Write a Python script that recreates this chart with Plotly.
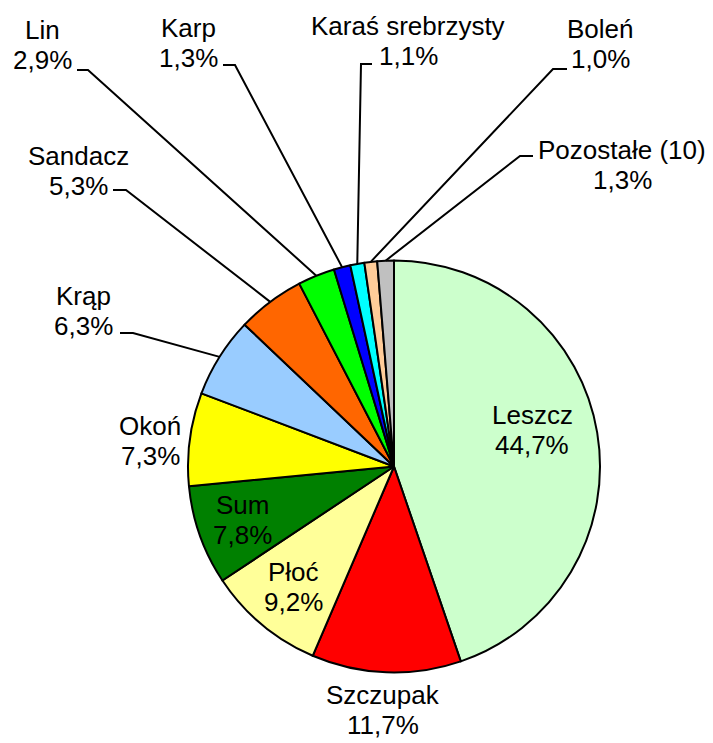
import math
import plotly.graph_objects as go

# ---- data ----
species = ["Leszcz", "Szczupak", "Płoć", "Sum", "Okoń", "Krąp", "Sandacz",
           "Lin", "Karp", "Karaś srebrzysty", "Boleń", "Pozostałe (10)"]
shares = [44.7, 11.7, 9.2, 7.8, 7.3, 6.3, 5.3, 2.9, 1.3, 1.1, 1.0, 1.3]
colors = ["#CCFFCC", "#FF0000", "#FFFF99", "#008000", "#FFFF00", "#99CCFF",
          "#FF6600", "#00FF00", "#0000FF", "#00FFFF", "#FFCC99", "#C0C0C0"]

# ---- layout (page pixels; page has an 8px body margin) ----
OFF = 8
W, H = 705, 735
CX, CY, R = 394, 466.5, 206
LINE_GAP = 30

label_pos = {
    "Leszcz":           ("abs", 532, 430, None),
    "Szczupak":         ("abs", 383, 710, None),
    "Płoć":             ("in", 0.76, 0),
    "Sum":              ("in", 0.78, 0),
    "Okoń":             ("abs", 150, 441, None),
    "Krąp":             ("abs", 83, 311, (120, 333, 133)),
    "Sandacz":          ("abs", 78, 171, (113, 190, 126)),
    "Lin":              ("abs", 42, 45, (77, 70, 88)),
    "Karp":             ("abs", 188, 43, (223, 65, 235)),
    "Karaś srebrzysty": ("abs", 408, 41, (372, 64, 361)),
    "Boleń":            ("abs", 600, 44, (567, 69, 553)),
    "Pozostałe (10)":   ("abs", 622, 165, (533, 156, 520)),
}

def px(x):
    return (x - OFF) / W

def py(y):
    return 1 - (y - OFF) / H

def fmt(v):
    return f"{v:.1f}".replace(".", ",") + "%"

fig = go.Figure(go.Pie(
    labels=species, values=shares, sort=False, direction="clockwise",
    rotation=0, textinfo="none", hoverinfo="label+percent",
    marker=dict(colors=colors, line=dict(color="black", width=2)),
    domain=dict(x=[px(CX - R), px(CX + R)], y=[py(CY + R), py(CY - R)]),
    showlegend=False,
))

total = sum(shares)
cum = 0.0
annotations = []
shapes = []
font = dict(family="Liberation Sans, Arial, sans-serif", size=26, color="black")
for name, val in zip(species, shares):
    mid = (cum + val / 2) / total * 2 * math.pi
    cum += val
    spec = label_pos[name]
    if spec[0] == "in":
        f = spec[1]
        lx = CX + R * f * math.sin(mid)
        ly = CY - R * f * math.cos(mid) + spec[2]
    else:
        lx, ly = spec[1], spec[2]
        lead = spec[3]
        if lead is not None:
            ax, ay, bx = lead
            ex = CX + R * math.sin(mid)
            ey = CY - R * math.cos(mid)
            shapes.append(dict(
                type="path", xref="paper", yref="paper",
                path=f"M {px(ax)} {py(ay)} L {px(bx)} {py(ay)} L {px(ex)} {py(ey)}",
                line=dict(color="black", width=2),
            ))
    for txt, dy in ((name, -LINE_GAP / 2), (fmt(val), LINE_GAP / 2)):
        annotations.append(dict(
            x=px(lx), y=py(ly + dy), xref="paper", yref="paper", text=txt,
            showarrow=False, xanchor="center", yanchor="middle", align="center",
            font=font,
        ))

fig.update_layout(
    width=W, height=H, margin=dict(l=0, r=0, t=0, b=0),
    paper_bgcolor="white", plot_bgcolor="white",
    annotations=annotations, shapes=shapes,
)

fig.write_html("out.html")
